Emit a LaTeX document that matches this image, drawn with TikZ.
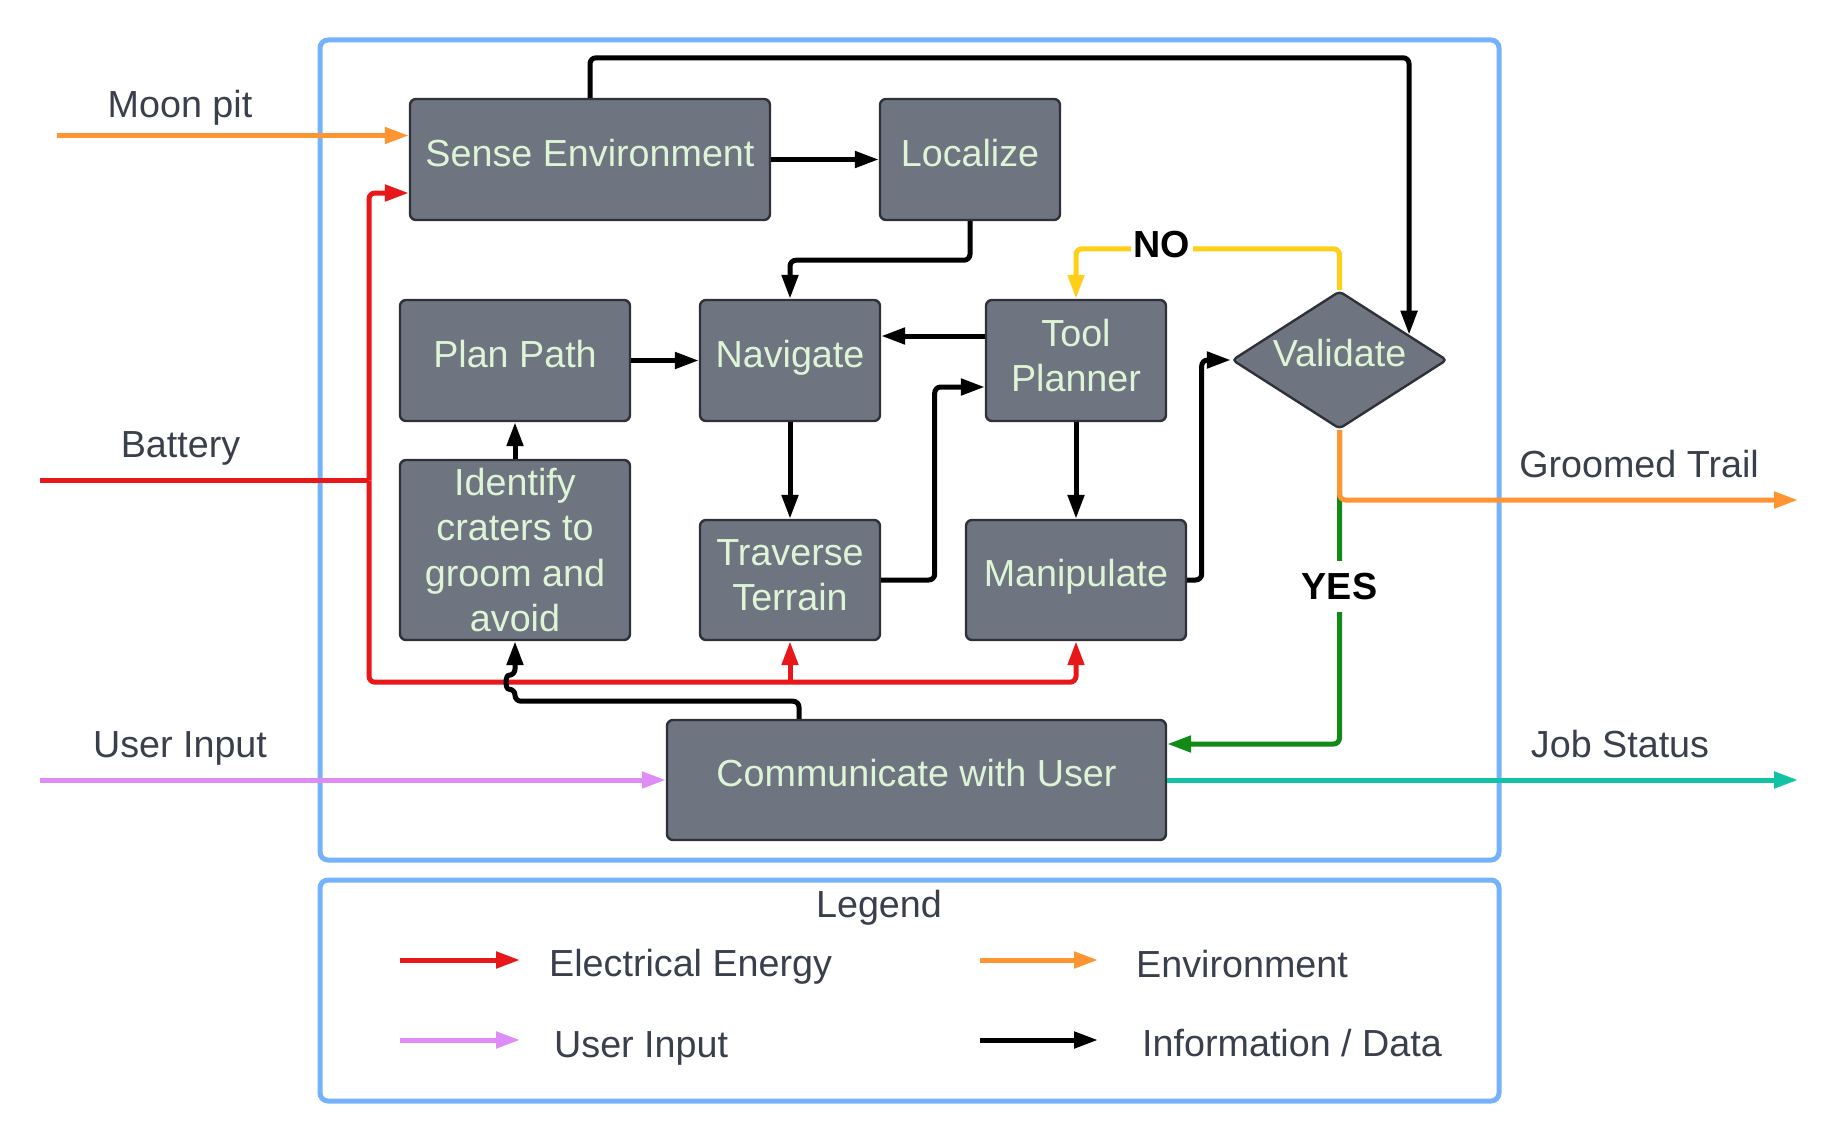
\documentclass[tikz,border=0pt]{standalone}
\usepackage{fontspec}
\setmainfont{Liberation Sans}
\usetikzlibrary{shapes.geometric,arrows.meta,calc}
\definecolor{boxfill}{HTML}{6E7480}
\definecolor{boxdraw}{HTML}{2E3238}
\definecolor{boxtext}{HTML}{DDF5D6}
\definecolor{frameblue}{HTML}{74B2FC}
\definecolor{lblgray}{HTML}{3A3F4C}
\definecolor{corange}{HTML}{FF9433}
\definecolor{cred}{HTML}{E8171A}
\definecolor{cpink}{HTML}{DE8DF6}
\definecolor{cteal}{HTML}{12C2A4}
\definecolor{cgreen}{HTML}{128A17}
\definecolor{cyellow}{HTML}{FFCE17}
\newcommand{\lowstrut}{\rule[-10pt]{0pt}{10pt}}
\begin{document}
\begin{tikzpicture}[x=1pt,y=-1pt,
  bigfont/.style={font=\fontsize{37.7}{45.5}\selectfont},
  proc/.style={draw=boxdraw, line width=2.4pt, fill=boxfill, rounded corners=6pt,
    text=boxtext, bigfont, align=center, inner sep=0pt},
  oneline/.style={text height=28pt, text depth=15pt},
  dec/.style={diamond, aspect=1.558, draw=boxdraw, line width=2.4pt, fill=boxfill,
    rounded corners=4pt, text=boxtext, bigfont, inner sep=0pt,
    minimum width=215pt, minimum height=138pt},
  frm/.style={draw=frameblue, line width=5pt, rounded corners=8pt, inner sep=0pt},
  lbl/.style={text=lblgray, bigfont, anchor=base, inner sep=0pt},
  leglbl/.style={text=lblgray, bigfont, anchor=base west, inner sep=0pt},
  yn/.style={font=\bfseries\fontsize{37.7}{40}\selectfont, text=black, fill=white,
    anchor=base, inner xsep=3pt, inner ysep=12pt},
  tip/.style={-{Triangle[length=24pt,width=16pt]}},
  conn/.style={tip, line width=5pt, rounded corners=6pt},
  arr/.style={conn, draw=black},
  earr/.style={conn, draw=cred},
  oarr/.style={conn, draw=corange},
  parr/.style={conn, draw=cpink},
  tarr/.style={conn, draw=cteal},
  garr/.style={conn, draw=cgreen},
  yarr/.style={conn, draw=cyellow},
]
\useasboundingbox (0,0) rectangle (1832,1140);

% frames
\node[frm, minimum width=1179pt, minimum height=820pt] (frame) at (909.5,450) {};
\node[frm, minimum width=1179pt, minimum height=221pt] (legendbox) at (909.5,990.5) {};

% process boxes
\node[proc, oneline, minimum width=360pt, minimum height=121pt] (sense) at (590,159.5) {Sense Environment};
\node[proc, oneline, minimum width=180pt, minimum height=121pt] (localize) at (970,159.5) {Localize};
\node[proc, oneline, minimum width=230pt, minimum height=121pt] (plan) at (515,360.5) {Plan Path};
\node[proc, oneline, minimum width=180pt, minimum height=121pt] (nav) at (790,360.5) {Navigate};
\node[proc, minimum width=180pt, minimum height=121pt] (tool) at (1076,360.5) {Tool\\Planner\lowstrut};
\node[proc, minimum width=230pt, minimum height=180pt] (ident) at (515,550) {Identify\\craters to\\groom and\\avoid};
\node[proc, minimum width=180pt, minimum height=120pt] (trav) at (790,580) {Traverse\\Terrain\lowstrut};
\node[proc, oneline, minimum width=220pt, minimum height=120pt] (manip) at (1076,580) {Manipulate};
\node[proc, oneline, minimum width=499pt, minimum height=120pt] (comm) at (916.5,780) {Communicate with User};
\node[dec, text height=28pt, text depth=15pt] (val) at (1339.5,360) {Validate};

% outer labels
\node[lbl] (lmoon) at (180,117.5) {Moon pit};
\node[lbl] (lbat) at (180.5,457.3) {Battery};
\node[lbl] (luser) at (180,757) {User Input};
\node[lbl] (lgroom) at (1639,477) {Groomed Trail};
\node[lbl] (ljob) at (1620,757) {Job Status};

% free ends
\coordinate (mp) at (57,135.5);
\coordinate (bat) at (40,480.5);
\coordinate (rj) at (369,480.5);
\coordinate (ui) at (40,780);
\coordinate (gt) at (1798,500);
\coordinate (js) at (1798,780);

% inputs / outputs
\draw[oarr] (mp) -- ([yshift=24pt]sense.west);
\draw[parr] (ui) -- (comm.west);
\draw[tarr] (comm.east) -- (js);

% electrical energy
\draw[cred, line width=5pt] (bat) -- (rj);
\draw[earr] (rj) |- ([yshift=-33.5pt]sense.west);
\draw[earr] (rj) |- ([yshift=-41pt]manip.south) -- (manip.south);
\draw[earr] ([yshift=-41pt]trav.south) -- (trav.south);

% information / data
\draw[arr] (sense.east) -- (localize.west);
\draw[arr] (localize.south) -- ++(0,39) -| (nav.north);
\draw[arr] (plan.east) -- (nav.west);
\draw[arr] ([yshift=24.5pt]tool.west) -- ([yshift=24.5pt]nav.east);
\draw[arr] (ident.north) -- (plan.south);
\draw[arr] (nav.south) -- (trav.north);
\draw[arr] (trav.east) -- ++(53.5,0) |- ([yshift=-26.5pt]tool.west);
\draw[arr] (tool.south) -- (manip.north);
\draw[arr] (manip.east) -- ++(14.5,0) |- (val.west);
\draw[arr] (sense.north) -- ++(0,-40) -| ($(val.north)!0.64!(val.east)$);
\draw[arr] ([xshift=-117.5pt]comm.north) |- ($(ident.south)+(0,60)$)
  -- ($(ident.south)+(0,48)$)
  .. controls ($(ident.south)+(-10,48)$) and ($(ident.south)+(-10,34)$) .. ($(ident.south)+(0,34)$)
  -- (ident.south);

% decision outputs
\draw[yarr] (val.north) -- ++(0,-41) -| (tool.north);
\node[yn] (no) at (1162,257.4) {NO};
\draw[garr] (val.south) |- ([yshift=36pt]comm.east);
\node[yn] (yes) at (1339.5,599.8) {YES};
\draw[oarr] (val.south) |- (gt);

% legend
\node[lbl] (legendtitle) at (879,917) {Legend};
\coordinate (l1a) at (400,960); \coordinate (l1b) at (520,960);
\coordinate (l2a) at (400,1040); \coordinate (l2b) at (520,1040);
\coordinate (l3a) at (980,960); \coordinate (l3b) at (1098,960);
\coordinate (l4a) at (980,1040); \coordinate (l4b) at (1098,1040);
\draw[earr] (l1a) -- (l1b);
\draw[parr] (l2a) -- (l2b);
\draw[oarr] (l3a) -- (l3b);
\draw[arr] (l4a) -- (l4b);
\node[leglbl] (t1) at (549,976.5) {Electrical Energy};
\node[leglbl] (t2) at (554,1057) {User Input};
\node[leglbl] (t3) at (1136,977) {Environment};
\node[leglbl] (t4) at (1142,1056.5) {Information / Data};
\end{tikzpicture}
\end{document}
